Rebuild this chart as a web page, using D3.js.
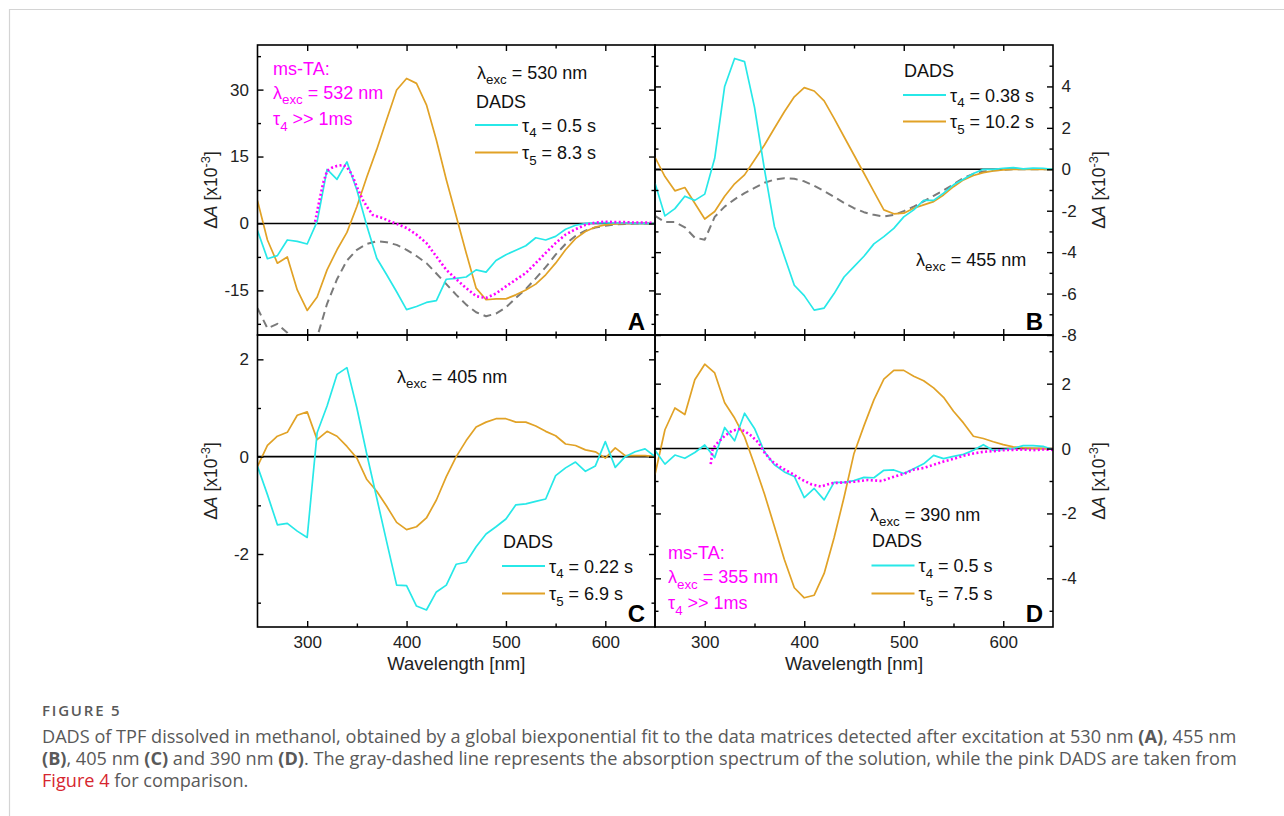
<!DOCTYPE html>
<html>
<head>
<meta charset="utf-8">
<script src="https://cdn.jsdelivr.net/npm/d3@7/dist/d3.min.js"></script>
<style>
	body { margin: 0; background: #fff; }
	svg { display: block; }
</style>
</head>
<body>
<svg id="Canvas" width="1284" height="816"></svg>
<script>
	/* wavelength grid of the DADS (nm) */
	var wavelengths = [250,260,270,280,290,300,310,320,330,340,350,360,370,380,390,400,410,420,430,440,
		450,460,470,480,490,500,510,520,530,540,550,560,570,580,590,600,610,620,630,640,650];

	// panel A, exc 530 nm
	var aTau4 = [-1.6,-7.9,-7.2,-3.7,-4.0,-4.6,0.4,12.1,9.9,13.8,7.5,-0.5,-7.8,-11.5,-15.3,-19.3,-18.6,-17.7,-17.3,-12.5,
		-12.3,-12.0,-10.4,-10.9,-8.3,-7.0,-6.0,-5.0,-3.2,-3.7,-2.9,-1.3,-0.4,0.0,0.1,0.2,0.1,0.1,0.0,0.0,0.0];
	var aTau5 = [5.1,-3.7,-8.9,-7.5,-14.9,-19.5,-16.5,-10.4,-5.9,-2.0,3.8,10.4,16.6,23.3,29.9,32.5,31.4,26.6,18.7,9.8,
		1.6,-6.6,-14.5,-17.1,-16.9,-16.9,-16.0,-14.9,-13.6,-11.5,-8.9,-5.9,-3.4,-1.8,-0.8,-0.3,-0.1,0,0,0,0];
	var aAbs = [-19.0,-23.5,-22.5,-24.5,-30,-33,-25.5,-18,-12.5,-8.3,-5.9,-4.6,-4.0,-4.2,-4.8,-5.9,-7.3,-8.9,-11.2,-13.6,
		-16.0,-18.2,-19.9,-20.8,-20.2,-18.8,-16.7,-14.7,-12.3,-9.8,-7.0,-4.6,-2.8,-1.6,-0.9,-0.5,-0.2,-0.1,0,0,0];
	var aMsWl = [308,311,316,320,325,330,336,340,345,350,356,360,366,370,376,380,390,400,410,420,430,440,450,460,470,
		480,490,500,510,520,530,540,550,560,570,580,590,600,610,620,630,640,650];
	var aMs = [0.4,3.8,9.0,11.8,12.5,12.9,13.1,12.6,11.0,8.2,5.3,3.8,1.9,1.6,1.2,0.8,-0.1,-1.0,-2.5,-4.4,-7.4,-10.4,-12.5,
		-14.5,-16.3,-16.7,-15.7,-14.1,-12.6,-11.1,-8.9,-6.6,-4.4,-2.5,-1.3,-0.3,0.2,0.4,0.3,0.3,0.2,0.2,0.1];

	// panel B, exc 455 nm
	var bTau4 = [-0.67,-2.25,-1.9,-1.3,-1.5,-1.2,0.53,4.0,5.35,5.2,3.0,0,-2.76,-4.2,-5.6,-6.1,-6.8,-6.7,-6.0,-5.2,
		-4.7,-4.2,-3.6,-3.25,-2.85,-2.3,-1.96,-1.5,-1.5,-1.15,-0.75,-0.48,-0.2,0,0,0.05,0.08,0.02,0.06,0.05,0];
	var bTau5 = [0.58,-0.35,-1.04,-0.88,-1.64,-2.4,-2.04,-1.3,-0.7,-0.27,0.45,1.17,1.98,2.78,3.5,3.94,3.78,3.3,2.46,1.57,
		0.69,-0.19,-1.08,-1.96,-2.15,-2.12,-1.88,-1.72,-1.56,-1.24,-0.84,-0.51,-0.3,-0.16,-0.08,-0.03,0,0,0,0,0];
	var bAbs = [-2.25,-2.55,-2.55,-2.8,-3.3,-3.4,-2.3,-1.8,-1.45,-1.15,-0.9,-0.65,-0.5,-0.43,-0.46,-0.58,-0.8,-1.05,-1.33,-1.62,
		-1.88,-2.07,-2.2,-2.28,-2.2,-2.02,-1.8,-1.55,-1.28,-1.02,-0.73,-0.42,-0.22,-0.11,-0.05,-0.02,0,0,0,0,0];

	// panel C, exc 405 nm
	var cTau4 = [-0.2,-0.78,-1.4,-1.37,-1.53,-1.66,0.49,1.04,1.69,1.83,1.0,0.05,-0.85,-1.75,-2.64,-2.65,-3.07,-3.15,-2.78,-2.64,
		-2.21,-2.17,-1.85,-1.59,-1.44,-1.28,-0.99,-0.97,-0.92,-0.87,-0.39,-0.23,-0.11,-0.3,-0.19,0.31,-0.22,0,0.1,0.16,0];
	var cTau5 = [-0.2,0.23,0.42,0.5,0.85,0.92,0.35,0.52,0.42,0.21,-0.03,-0.47,-0.71,-1.02,-1.35,-1.5,-1.44,-1.26,-0.89,-0.41,
		0.0,0.33,0.61,0.71,0.78,0.78,0.71,0.71,0.63,0.52,0.43,0.26,0.23,0.14,0.1,-0.03,0.18,0.02,0.02,0.02,0];

	// panel D, exc 390 nm
	var dTau4 = [-0.05,-0.48,-0.2,-0.3,-0.12,0.11,-0.28,0.65,0.24,1.09,0.62,-0.1,-0.5,-0.72,-0.86,-1.51,-1.23,-1.58,-1.04,-1.04,
		-0.99,-0.89,-0.9,-0.67,-0.66,-0.77,-0.62,-0.47,-0.21,-0.31,-0.24,-0.18,-0.05,0.12,-0.06,-0.03,0,0.09,0.09,0.07,-0.03];
	var dTau5 = [-0.8,0.58,1.25,1.05,2.12,2.6,2.33,1.41,0.94,0.36,-0.5,-1.4,-2.4,-3.42,-4.29,-4.6,-4.52,-3.85,-2.75,-1.5,
		-0.15,0.7,1.5,2.14,2.41,2.41,2.23,2.09,1.87,1.58,1.15,0.79,0.38,0.31,0.21,0.12,0.05,0.02,0.01,0,0];
	var dMsWl = [306,308,313,320,327,334,340,347,354,360,367,377,387,397,407,417,427,437,451,464,478,488,500,510,520,
		530,540,550,560,570,580,590,600,610,620,630,640,650];
	var dMs = [-0.48,0.0,0.18,0.39,0.54,0.6,0.54,0.39,0.18,-0.12,-0.38,-0.59,-0.76,-0.95,-1.1,-1.17,-1.07,-1.05,-1.02,-0.97,
		-1.0,-0.89,-0.78,-0.65,-0.6,-0.5,-0.4,-0.32,-0.22,-0.15,-0.1,-0.08,-0.05,-0.04,-0.03,-0.05,-0.03,-0.04];

	/* tick values */
	var xTicks = [300, 400, 500, 600],
		xMinor = [350, 450, 550],
		aTicks = [-15, 0, 15, 30], aMinor = [-22.5, -7.5, 7.5, 22.5, 37.5],
		bTicks = [-8, -6, -4, -2, 0, 2, 4], bMinor = [-7, -5, -3, -1, 1, 3, 5],
		cTicks = [-2, 0, 2], cMinor = [-3, -1, 1],
		dTicks = [-4, -2, 0, 2], dMinor = [-5, -3, -1, 1, 3];

	var svg = d3.select("#Canvas"),
		plotFont = "'Liberation Sans', Arial, sans-serif",
		capFont = "'Open Sans', 'Noto Sans', sans-serif",
		textSize = 18,
		cyan = "#27e8e8",
		orange = "#e1a226",
		gray = "#7a7a7a",
		pink = "#ff00ff";

	var panels = [
		{ name: "A", x: 257.5, y: 45, w: 397.5, h: 290, yDomain: [-25, 40], yTicks: aTicks, yMinor: aMinor, side: "left", xLabels: false,
		  series: [
			{ x: wavelengths, y: aAbs, color: gray, dash: "8,5", width: 2 },
			{ x: wavelengths, y: aTau5, color: orange, width: 1.7 },
			{ x: wavelengths, y: aTau4, color: cyan, width: 1.7 },
			{ x: aMsWl, y: aMs, color: pink, dash: "2,2.4", width: 2.6 }
		  ] },
		{ name: "B", x: 655, y: 45, w: 398, h: 290, yDomain: [-8, 6], yTicks: bTicks, yMinor: bMinor, side: "right", xLabels: false,
		  series: [
			{ x: wavelengths, y: bAbs, color: gray, dash: "8,5", width: 2 },
			{ x: wavelengths, y: bTau5, color: orange, width: 1.7 },
			{ x: wavelengths, y: bTau4, color: cyan, width: 1.7 }
		  ] },
		{ name: "C", x: 257.5, y: 335, w: 397.5, h: 292, yDomain: [-3.5, 2.5], yTicks: cTicks, yMinor: cMinor, side: "left", xLabels: true,
		  series: [
			{ x: wavelengths, y: cTau5, color: orange, width: 1.7 },
			{ x: wavelengths, y: cTau4, color: cyan, width: 1.7 }
		  ] },
		{ name: "D", x: 655, y: 335, w: 398, h: 292, yDomain: [-5.5, 3.5], yTicks: dTicks, yMinor: dMinor, side: "right", xLabels: true,
		  series: [
			{ x: wavelengths, y: dTau5, color: orange, width: 1.7 },
			{ x: wavelengths, y: dTau4, color: cyan, width: 1.7 },
			{ x: dMsWl, y: dMs, color: pink, dash: "2,2.4", width: 2.6 }
		  ] }
	];

	Init();

	function Init(){
		// light frame of the figure box
		svg.append("path")
			.attr("d", "M9.5,816V9.5H1284")
			.attr("fill", "none").attr("stroke", "#d4d4d4").attr("stroke-width", 1.2);

		panels.forEach(DrawPanel);
		DrawAnnotations();
		DrawCaption();
	}

	/*
	 * One DADS panel: clipped curves, zero line, frame, inward ticks
	 */
	function DrawPanel(p){
		var x = d3.scaleLinear().domain([250, 650]).range([p.x, p.x + p.w]),
			y = d3.scaleLinear().domain(p.yDomain).range([p.y + p.h, p.y]),
			g = svg.append("g").attr("font-family", plotFont),
			clipId = "clip" + p.name;

		g.append("clipPath").attr("id", clipId)
			.append("rect").attr("x", p.x).attr("y", p.y).attr("width", p.w).attr("height", p.h);

		g.append("line")
			.attr("x1", p.x).attr("x2", p.x + p.w)
			.attr("y1", y(0)).attr("y2", y(0))
			.attr("stroke", "#000").attr("stroke-width", 1.6);

		var line = d3.line()
			.x(function(d){ return x(d[0]); })
			.y(function(d){ return y(d[1]); });

		p.series.forEach(function(s){
			g.append("path")
				.datum(d3.zip(s.x, s.y))
				.attr("clip-path", "url(#" + clipId + ")")
				.attr("d", line)
				.attr("fill", "none")
				.attr("stroke", s.color)
				.attr("stroke-width", s.width)
				.attr("stroke-linejoin", "round")
				.attr("stroke-dasharray", s.dash || null);
		});

		var left = p.side === "left";

		// y axes, both sides, labels on the outer one
		DrawAxis(g, d3.axisLeft(y), p.x, 0, p.yTicks, 6, left);
		DrawAxis(g, d3.axisLeft(y), p.x, 0, p.yMinor, 3.5, false);
		DrawAxis(g, d3.axisRight(y), p.x + p.w, 0, p.yTicks, 6, !left);
		DrawAxis(g, d3.axisRight(y), p.x + p.w, 0, p.yMinor, 3.5, false);
		// x axes
		DrawAxis(g, d3.axisBottom(x), 0, p.y + p.h, xTicks, 6, p.xLabels);
		DrawAxis(g, d3.axisBottom(x), 0, p.y + p.h, xMinor, 3.5, false);
		DrawAxis(g, d3.axisTop(x), 0, p.y, xTicks, 6, false);
		DrawAxis(g, d3.axisTop(x), 0, p.y, xMinor, 3.5, false);

		g.append("rect")
			.attr("x", p.x).attr("y", p.y).attr("width", p.w).attr("height", p.h)
			.attr("fill", "none").attr("stroke", "#000").attr("stroke-width", 1.6);

		// axis title
		var tx = left ? p.x - 40.5 : p.x + p.w + 52;
		RichText(g, 0, 0, [["Δ"], ["A", "i"], [" [x10"], ["-3", "sup"], ["]"]], 17.5, "#222", "middle")
			.attr("transform", "translate(" + tx + "," + (p.y + p.h / 2) + ") rotate(-90)");

		if (p.xLabels){
			g.append("text")
				.attr("x", p.x + p.w / 2).attr("y", 670)
				.attr("text-anchor", "middle").attr("font-size", 18.5).attr("fill", "#222")
				.text("Wavelength [nm]");
		}

		g.append("text")
			.attr("x", p.x + p.w - 10).attr("y", p.y + p.h - 5.5)
			.attr("text-anchor", "end").attr("font-size", 24).attr("font-weight", "bold")
			.text(p.name);
	}

	function DrawAxis(g, axis, tx, ty, values, size, showLabels){
		axis.tickValues(values)
			.tickSizeInner(-size)
			.tickSizeOuter(0)
			.tickPadding(showLabels ? 8.5 : 0)
			.tickFormat(function(d){ return showLabels ? String(d) : ""; });

		var a = g.append("g")
			.attr("transform", "translate(" + tx + "," + ty + ")")
			.call(axis);
		a.select(".domain").remove();
		a.selectAll(".tick line").attr("stroke", "#000").attr("stroke-width", 1.4);
		a.selectAll(".tick text").attr("font-size", 17).attr("font-family", plotFont).attr("fill", "#222");
	}

	/*
	 * Text with sub / superscripts
	 */
	function RichText(g, x, y, parts, size, color, anchor){
		var t = g.append("text")
			.attr("x", x).attr("y", y)
			.attr("font-size", size)
			.attr("fill", color || "#000");
		if (anchor) t.attr("text-anchor", anchor);

		var shift = 0;
		parts.forEach(function(p){
			var kind = p[1] || "",
				span = t.append("tspan").text(p[0]),
				want = kind === "sub" ? size * 0.32 : kind === "sup" ? -size * 0.42 : 0;
			if (want !== shift){
				span.attr("dy", want - shift);
				shift = want;
			}
			if (kind === "sub" || kind === "sup") span.attr("font-size", size * 0.74);
			if (kind === "i") span.attr("font-style", "italic");
		});
		return t;
	}

	function LegendRow(g, x, y, color, parts){
		g.append("line")
			.attr("x1", x).attr("x2", x + 43)
			.attr("y1", y).attr("y2", y)
			.attr("stroke", color).attr("stroke-width", 1.8);
		RichText(g, x + 47, y + 6.5, parts, textSize, "#111");
	}

	function DrawAnnotations(){
		var g = svg.append("g").attr("font-family", plotFont);

		// panel A
		RichText(g, 273, 74.5, [["ms-TA:"]], textSize, pink);
		RichText(g, 273, 98.5, [["λ"], ["exc", "sub"], [" = 532 nm"]], textSize, pink);
		RichText(g, 273, 125, [["τ"], ["4", "sub"], [" >> 1ms"]], textSize, pink);
		RichText(g, 477, 78.5, [["λ"], ["exc", "sub"], [" = 530 nm"]], textSize, "#111");
		RichText(g, 476, 107.5, [["DADS"]], textSize, "#111");
		LegendRow(g, 475, 125, cyan, [["τ"], ["4", "sub"], [" = 0.5 s"]]);
		LegendRow(g, 475, 152.5, orange, [["τ"], ["5", "sub"], [" = 8.3 s"]]);

		// panel B
		RichText(g, 904, 76.5, [["DADS"]], textSize, "#111");
		LegendRow(g, 903, 95, cyan, [["τ"], ["4", "sub"], [" = 0.38 s"]]);
		LegendRow(g, 903, 121.5, orange, [["τ"], ["5", "sub"], [" = 10.2 s"]]);
		RichText(g, 916, 265.5, [["λ"], ["exc", "sub"], [" = 455 nm"]], textSize, "#111");

		// panel C
		RichText(g, 397, 382.5, [["λ"], ["exc", "sub"], [" = 405 nm"]], textSize, "#111");
		RichText(g, 503, 548, [["DADS"]], textSize, "#111");
		LegendRow(g, 502, 566, cyan, [["τ"], ["4", "sub"], [" = 0.22 s"]]);
		LegendRow(g, 502, 593.5, orange, [["τ"], ["5", "sub"], [" = 6.9 s"]]);

		// panel D
		RichText(g, 668, 559, [["ms-TA:"]], textSize, pink);
		RichText(g, 668, 583, [["λ"], ["exc", "sub"], [" = 355 nm"]], textSize, pink);
		RichText(g, 668, 609, [["τ"], ["4", "sub"], [" >> 1ms"]], textSize, pink);
		RichText(g, 870, 520.5, [["λ"], ["exc", "sub"], [" = 390 nm"]], textSize, "#111");
		RichText(g, 872, 547, [["DADS"]], textSize, "#111");
		LegendRow(g, 871.5, 565.5, cyan, [["τ"], ["4", "sub"], [" = 0.5 s"]]);
		LegendRow(g, 871.5, 593.5, orange, [["τ"], ["5", "sub"], [" = 7.5 s"]]);
	}

	/*
	 * Figure caption under the plot
	 */
	function DrawCaption(){
		var g = svg.append("g").attr("font-family", capFont).attr("fill", "#595959");

		g.append("text")
			.attr("x", 42).attr("y", 716)
			.attr("font-size", 15).attr("font-weight", 600)
			.attr("letter-spacing", 1.8)
			.text("FIGURE 5");

		var lines = [
			[["DADS of TPF dissolved in methanol, obtained by a global biexponential fit to the data matrices detected after excitation at 530 nm "], ["(A)", "b"], [", 455 nm"]],
			[["(B)", "b"], [", 405 nm "], ["(C)", "b"], [" and 390 nm "], ["(D)", "b"], [". The gray-dashed line represents the absorption spectrum of the solution, while the pink DADS are taken from"]],
			[["Figure 4", "red"], [" for comparison."]]
		];
		var texts = lines.map(function(parts, i){
			var t = g.append("text").attr("x", 42).attr("y", 743 + i * 22).attr("font-size", 15);
			parts.forEach(function(p){
				var s = t.append("tspan").text(p[0]);
				if (p[1] === "b") s.attr("font-weight", "bold");
				if (p[1] === "red") s.attr("fill", "#d6262f");
			});
			return t;
		});

		// fit the first caption line to the width of the printed one
		var w = texts[0].node().getComputedTextLength(),
			size = 15 * 1195 / w;
		texts.forEach(function(t){ t.attr("font-size", size); });
	}
</script>
</body>
</html>
